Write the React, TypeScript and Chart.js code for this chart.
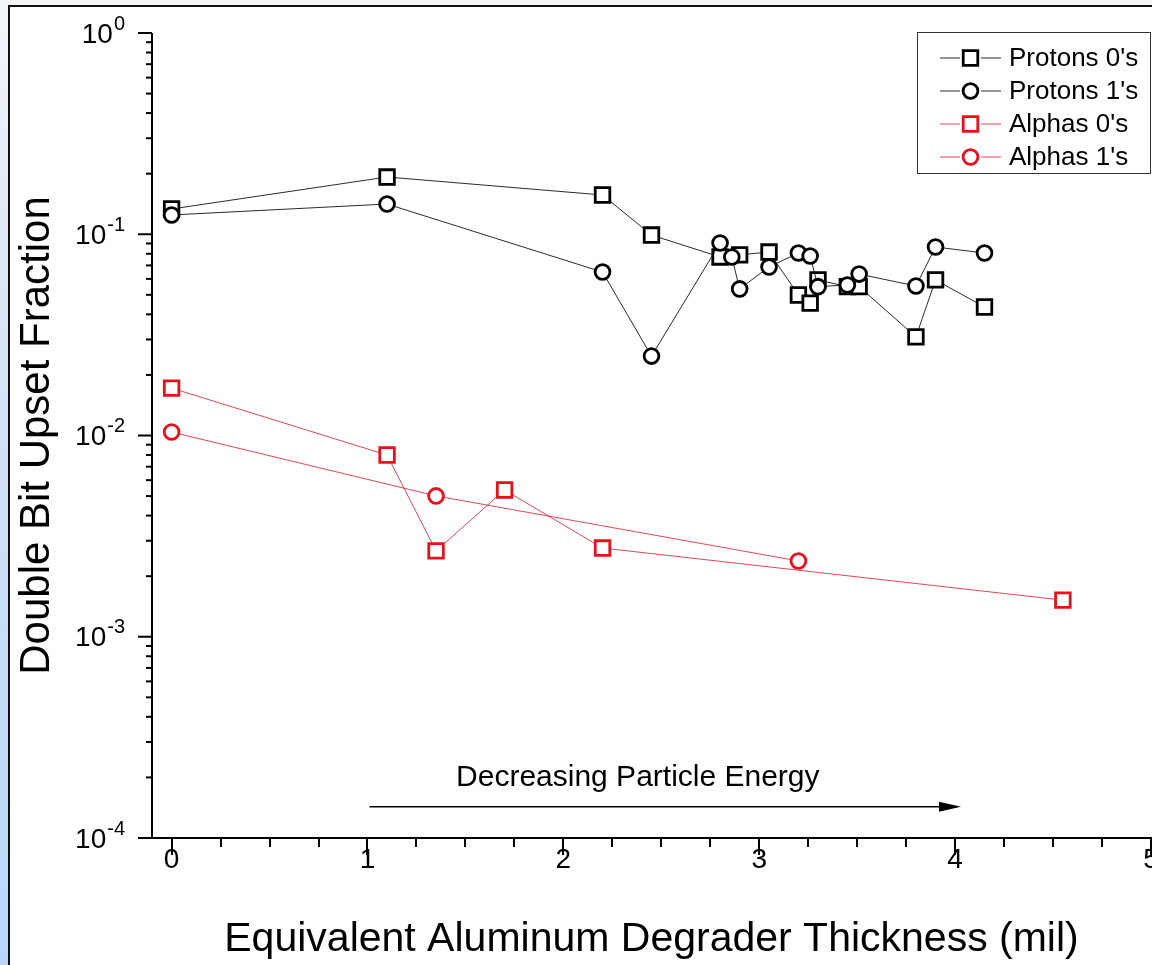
import React, { useEffect, useRef } from "react";
import { Chart, registerables } from "chart.js";

Chart.register(...registerables);

// ---------- data ----------
const protonX0 = [0, 1.1, 2.2, 2.45, 2.8, 2.9, 3.05, 3.2, 3.26, 3.3, 3.45, 3.51, 3.8, 3.9, 4.15];
const protonY0 = [0.1335, 0.1925, 0.1567, 0.0991, 0.0771, 0.079, 0.0816, 0.0499, 0.0455, 0.0593, 0.0549, 0.0549, 0.0309, 0.0593, 0.0435];

const protonX1 = [0, 1.1, 2.2, 2.45, 2.8, 2.86, 2.9, 3.05, 3.2, 3.26, 3.3, 3.45, 3.51, 3.8, 3.9, 4.15];
const protonY1 = [0.1247, 0.1413, 0.0649, 0.0248, 0.0905, 0.0771, 0.0535, 0.0688, 0.0807, 0.078, 0.0549, 0.056, 0.0634, 0.0553, 0.0864, 0.0807];

const alphaX0 = [0, 1.1, 1.35, 1.7, 2.2, 4.55];
const alphaY0 = [0.0172, 0.008, 0.00267, 0.00536, 0.00276, 0.00152];

const alphaX1 = [0, 1.35, 3.2];
const alphaY1 = [0.0104, 0.00501, 0.00238];

const seriesLabels = ["Protons 0's", "Protons 1's", "Alphas 0's", "Alphas 1's"];

const xMajorTicks = [0, 1, 2, 3, 4, 5];
const xMinorStep = 0.25;
const yDecades = [-4, -3, -2, -1, 0];

const xTitle = "Equivalent Aluminum Degrader Thickness (mil)";
const yTitle = "Double Bit Upset Fraction";

const annotationText = "Decreasing Particle Energy";
const annotationTextX = 2.38;
const annotationTextY = 2.0e-4;
const arrowFromX = 1.01;
const arrowToX = 4.03;
const arrowY = 1.43e-4;

// ---------- style ----------
const W = 1152;
const H = 965;
const FONT = "'Liberation Sans', Arial, sans-serif";
const BLACK = "#000000";
const RED = "#e8101c";
const BLACK_LINE = "rgba(20,20,20,0.9)";
const RED_LINE = "rgba(215,40,60,0.85)";

const toPts = (xs: number[], ys: number[]) => xs.map((x, i) => ({ x, y: ys[i] }));

const framePlugin = {
  id: "frame",
  beforeDraw(chart: any) {
    const ctx = chart.ctx;
    ctx.save();
    ctx.fillStyle = "#ffffff";
    ctx.fillRect(0, 0, W, H);
    const g = ctx.createLinearGradient(0, 0, 0, H);
    g.addColorStop(0, "#f3f5f9");
    g.addColorStop(0.35, "#d6e4f6");
    g.addColorStop(1, "#b8d6fb");
    ctx.fillStyle = g;
    ctx.fillRect(0, 0, 8, H);
    ctx.fillStyle = "#f4f4f4";
    ctx.fillRect(8, 0, W - 8, 5);
    ctx.fillStyle = "#111111";
    ctx.fillRect(8, 5, 2, H - 5);
    ctx.fillRect(8, 5, W - 8, 2);
    ctx.restore();
  },
};

const axesPlugin = {
  id: "customAxes",
  beforeDatasetsDraw(chart: any) {
    const ctx = chart.ctx;
    const xs = chart.scales.x;
    const ys = chart.scales.y;
    const { left, right, top, bottom } = chart.chartArea;
    ctx.save();
    ctx.fillStyle = BLACK;
    // axis lines
    ctx.fillRect(left - 1, top, 2, bottom - top + 1);
    ctx.fillRect(left - 1, bottom - 1, right - left + 2, 2);
    // y ticks
    yDecades.forEach((e) => {
      const py = ys.getPixelForValue(Math.pow(10, e));
      ctx.fillRect(left - 14, py - 1, 14, 2);
      if (e < 0) {
        for (let m = 2; m <= 9; m++) {
          const v = m * Math.pow(10, e);
          const pm = ys.getPixelForValue(v);
          ctx.fillRect(left - 6, pm - 1, 6, 2);
        }
      }
      // label
      const base = "10";
      const exp = String(e);
      ctx.font = `28px ${FONT}`;
      const wb = ctx.measureText(base).width;
      ctx.font = `20px ${FONT}`;
      const we = ctx.measureText(exp).width;
      const rightEdge = 125;
      ctx.textBaseline = "middle";
      ctx.textAlign = "left";
      ctx.font = `28px ${FONT}`;
      ctx.fillText(base, rightEdge - we - wb - 1, py + 2);
      ctx.font = `20px ${FONT}`;
      ctx.fillText(exp, rightEdge - we, py - 9);
    });
    // x ticks
    const xmin = xs.min;
    const xmax = xs.max;
    for (let v = Math.ceil(xmin / xMinorStep) * xMinorStep; v <= xmax + 1e-9; v += xMinorStep) {
      const isMajor = Math.abs(v - Math.round(v)) < 1e-6;
      const px = xs.getPixelForValue(v);
      ctx.fillRect(Math.round(px) - 1, bottom, 2, isMajor ? 17 : 9);
    }
    ctx.font = `28px ${FONT}`;
    ctx.textAlign = "center";
    ctx.textBaseline = "middle";
    xMajorTicks.forEach((t) => {
      const px = xs.getPixelForValue(t);
      ctx.fillText(String(t), px, bottom + 22);
    });
    ctx.restore();
  },
  afterDatasetsDraw(chart: any) {
    const ctx = chart.ctx;
    const xs = chart.scales.x;
    const ys = chart.scales.y;
    ctx.save();
    // annotation
    ctx.fillStyle = BLACK;
    ctx.font = `30px ${FONT}`;
    ctx.textAlign = "center";
    ctx.textBaseline = "middle";
    ctx.fillText(annotationText, xs.getPixelForValue(annotationTextX), ys.getPixelForValue(annotationTextY));
    const ax0 = xs.getPixelForValue(arrowFromX);
    const ax1 = xs.getPixelForValue(arrowToX);
    const ay = ys.getPixelForValue(arrowY);
    ctx.strokeStyle = BLACK;
    ctx.lineWidth = 1.5;
    ctx.beginPath();
    ctx.moveTo(ax0, ay);
    ctx.lineTo(ax1 - 16, ay);
    ctx.stroke();
    ctx.beginPath();
    ctx.moveTo(ax1, ay);
    ctx.lineTo(ax1 - 22, ay - 5);
    ctx.lineTo(ax1 - 22, ay + 5);
    ctx.closePath();
    ctx.fill();

    // legend
    const bx = 917.5, by = 32.5, bw = 233, bh = 141;
    ctx.fillStyle = "#ffffff";
    ctx.fillRect(bx, by, bw, bh);
    ctx.strokeStyle = "#333333";
    ctx.lineWidth = 1;
    ctx.strokeRect(bx, by, bw, bh);
    const rowY = [58, 91, 124, 157];
    chart.data.datasets.forEach((ds: any, i: number) => {
      const y = rowY[i];
      ctx.strokeStyle = ds.borderColor;
      ctx.lineWidth = 1;
      ctx.beginPath();
      ctx.moveTo(940, y);
      ctx.lineTo(960, y);
      ctx.moveTo(981, y);
      ctx.lineTo(1001, y);
      ctx.stroke();
      ctx.strokeStyle = ds.pointBorderColor;
      ctx.fillStyle = "#ffffff";
      ctx.lineWidth = ds.pointBorderWidth;
      ctx.beginPath();
      if (ds.pointStyle === "rect") {
        const s = ds.pointRadius * Math.SQRT1_2;
        ctx.rect(970.5 - s, y - s, 2 * s, 2 * s);
      } else {
        ctx.arc(970.5, y, ds.pointRadius, 0, Math.PI * 2);
      }
      ctx.fill();
      ctx.stroke();
      ctx.fillStyle = BLACK;
      ctx.font = `26px ${FONT}`;
      ctx.textAlign = "left";
      ctx.textBaseline = "middle";
      ctx.fillText(ds.label, 1009, y + 1);
    });
    ctx.restore();
  },
};

export default function App() {
  const ref = useRef<HTMLCanvasElement | null>(null);

  useEffect(() => {
    if (!ref.current) return;
    const mk = (label: string, xs: number[], ys: number[], color: string, line: string, style: string, order: number) => ({
      label,
      data: toPts(xs, ys),
      borderColor: line,
      borderWidth: 1,
      pointStyle: style,
      pointRadius: style === "rect" ? 10.3 : 7.4,
      pointBorderWidth: 2.8,
      pointBorderColor: color,
      pointBackgroundColor: "#ffffff",
      showLine: true,
      tension: 0,
      fill: false,
      order,
      clip: false,
    });
    const chart = new Chart(ref.current, {
      type: "line",
      data: {
        datasets: [
          mk(seriesLabels[0], protonX0, protonY0, BLACK, BLACK_LINE, "rect", 3),
          mk(seriesLabels[1], protonX1, protonY1, BLACK, BLACK_LINE, "circle", 2),
          mk(seriesLabels[2], alphaX0, alphaY0, RED, RED_LINE, "rect", 1),
          mk(seriesLabels[3], alphaX1, alphaY1, RED, RED_LINE, "circle", 0),
        ] as any,
      },
      options: {
        animation: false,
        responsive: false,
        events: [],
        devicePixelRatio: 1,
        layout: { autoPadding: false, padding: { left: 0, top: 33, right: 1, bottom: 0 } },
        plugins: { legend: { display: false }, tooltip: { enabled: false }, title: { display: false } },
        scales: {
          x: {
            type: "linear",
            min: -0.1,
            max: 5.0,
            grid: { display: false },
            border: { display: false },
            ticks: { display: false },
            title: {
              display: true,
              text: xTitle,
              color: BLACK,
              font: { family: FONT, size: 41, weight: "normal" },
              padding: { top: 0, bottom: 1 },
            },
            afterFit(scale: any) {
              scale.height = 127;
              scale.paddingLeft = 0;
              scale.paddingRight = 0;
            },
          },
          y: {
            type: "logarithmic",
            min: 1e-4,
            max: 1,
            grid: { display: false },
            border: { display: false },
            ticks: { display: false },
            title: {
              display: true,
              text: yTitle,
              color: BLACK,
              font: { family: FONT, size: 42, weight: "normal" },
              padding: { top: 12, bottom: 0 },
            },
            afterFit(scale: any) {
              scale.width = 152;
              scale.paddingTop = 0;
              scale.paddingBottom = 0;
            },
          },
        },
      } as any,
      plugins: [framePlugin, axesPlugin],
    });
    return () => chart.destroy();
  }, []);

  return (
    <div style={{ position: "absolute", left: 0, top: 0, width: W, height: H }}>
      <canvas ref={ref} width={W} height={H} style={{ display: "block", width: W, height: H }} />
    </div>
  );
}
